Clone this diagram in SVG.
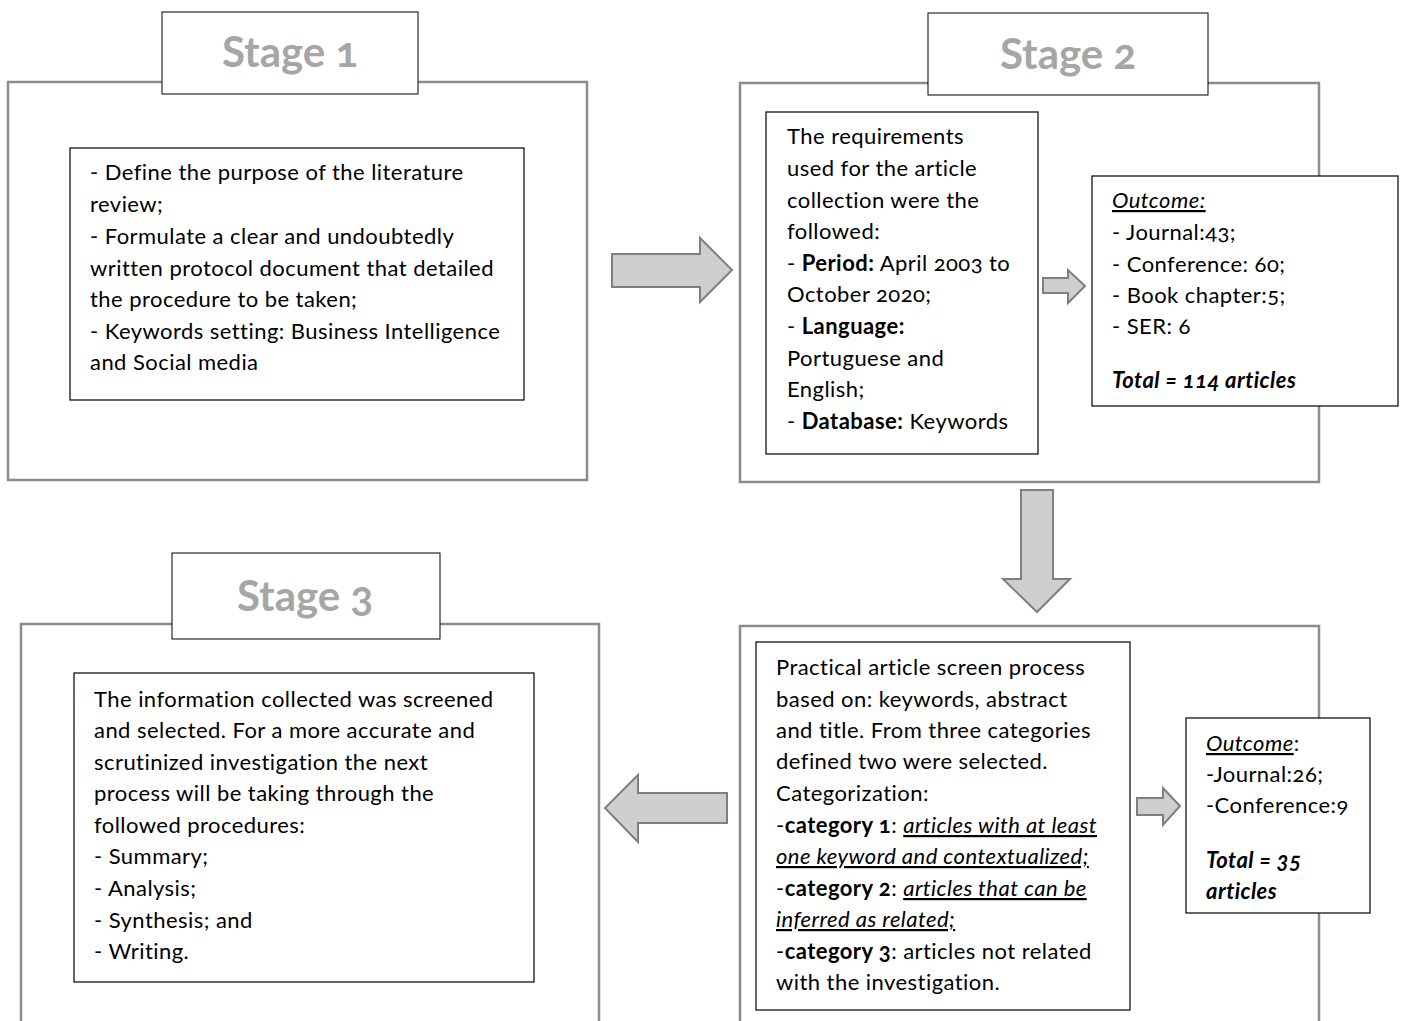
<svg xmlns="http://www.w3.org/2000/svg" width="1405" height="1021" viewBox="0 0 1405 1021">
<style>
.outer{fill:#fff;stroke:#8c8c8c;stroke-width:2.5}
.lbl{fill:#fff;stroke:#000;stroke-width:1}
.inner{fill:#fff;stroke:#000;stroke-width:1.2}
.title{font-family:Lato,"Open Sans",sans-serif;font-weight:bold;font-size:42px;fill:#a6a6a6;text-anchor:middle;font-variant-numeric:oldstyle-nums}
.t{font-family:Lato,"Open Sans",sans-serif;font-size:22px;letter-spacing:0.45px;fill:#000;font-variant-numeric:oldstyle-nums}
.b{font-weight:bold}
.i{font-style:italic}
.u{text-decoration:underline}
.arr{fill:#d0cece;stroke:#7f7f7f;stroke-width:2}
</style>
<rect width="1405" height="1021" fill="#fff"/>
<g id="stage1">
<rect class="outer" x="8" y="82" width="579" height="398"/>
<rect class="lbl" x="162" y="12" width="256" height="82"/>
<text class="title" x="290" y="67">Stage 1</text>
</g>
<g id="stage1-box">
<rect class="inner" x="70" y="148" width="454" height="252"/>
<text class="t" x="90" y="180">- Define the purpose of the literature</text>
<text class="t" x="90" y="212">review;</text>
<text class="t" x="90" y="244">- Formulate a clear and undoubtedly</text>
<text class="t" x="90" y="276">written protocol document that detailed</text>
<text class="t" x="90" y="307">the procedure to be taken;</text>
<text class="t" x="90" y="339">- Keywords setting: Business Intelligence</text>
<text class="t" x="90" y="370">and Social media</text>
</g>
<g id="stage2">
<rect class="outer" x="740" y="83" width="579" height="399"/>
<rect class="lbl" x="928" y="13" width="280" height="82"/>
<text class="title" x="1068" y="69">Stage 2</text>
</g>
<g id="stage2-requirements">
<rect class="inner" x="766" y="112" width="272" height="342"/>
<text class="t" x="787" y="144">The requirements</text>
<text class="t" x="787" y="176">used for the article</text>
<text class="t" x="787" y="208">collection were the</text>
<text class="t" x="787" y="239">followed:</text>
<text class="t" x="787" y="271">- <tspan class="b">Period:</tspan> April 2003 to</text>
<text class="t" x="787" y="302">October 2020;</text>
<text class="t" x="787" y="334">- <tspan class="b">Language:</tspan></text>
<text class="t" x="787" y="366">Portuguese and</text>
<text class="t" x="787" y="397">English;</text>
<text class="t" x="787" y="429">- <tspan class="b">Database:</tspan> Keywords</text>
</g>
<g id="stage2-outcome">
<rect class="inner" x="1092" y="176" width="306" height="230"/>
<text class="t" x="1112" y="208"><tspan class="i u">Outcome:</tspan></text>
<text class="t" x="1112" y="240">- Journal:43;</text>
<text class="t" x="1112" y="272">- Conference: 60;</text>
<text class="t" x="1112" y="303">- Book chapter:5;</text>
<text class="t" x="1112" y="334">- SER: 6</text>
<text class="t b i" x="1112" y="388">Total = 114 articles</text>
</g>
<g id="stage3">
<rect class="outer" x="21" y="624" width="578" height="420"/>
<rect class="lbl" x="172" y="553" width="268" height="86"/>
<text class="title" x="305" y="611">Stage 3</text>
</g>
<g id="stage3-box">
<rect class="inner" x="74" y="673" width="460" height="309"/>
<text class="t" x="94" y="707">The information collected was screened</text>
<text class="t" x="94" y="738">and selected. For a more accurate and</text>
<text class="t" x="94" y="770">scrutinized investigation the next</text>
<text class="t" x="94" y="801">process will be taking through the</text>
<text class="t" x="94" y="833">followed procedures:</text>
<text class="t" x="94" y="864">- Summary;</text>
<text class="t" x="94" y="896">- Analysis;</text>
<text class="t" x="94" y="928">- Synthesis; and</text>
<text class="t" x="94" y="959">- Writing.</text>
</g>
<g id="screening">
<rect class="outer" x="740" y="626" width="579" height="420"/>
</g>
<g id="screening-box">
<rect class="inner" x="756" y="642" width="374" height="368"/>
<text class="t" x="776" y="675">Practical article screen process</text>
<text class="t" x="776" y="707">based on: keywords, abstract</text>
<text class="t" x="776" y="738">and title. From three categories</text>
<text class="t" x="776" y="769">defined two were selected.</text>
<text class="t" x="776" y="801">Categorization:</text>
<text class="t" x="776" y="833">-<tspan class="b">category 1</tspan>: <tspan class="i u">articles with at least</tspan></text>
<text class="t" x="776" y="864"><tspan class="i u">one keyword and contextualized;</tspan></text>
<text class="t" x="776" y="896">-<tspan class="b">category 2</tspan>: <tspan class="i u">articles that can be</tspan></text>
<text class="t" x="776" y="927"><tspan class="i u">inferred as related;</tspan></text>
<text class="t" x="776" y="959">-<tspan class="b">category 3</tspan>: articles not related</text>
<text class="t" x="776" y="990">with the investigation.</text>
</g>
<g id="screening-outcome">
<rect class="inner" x="1186" y="718" width="184" height="195"/>
<text class="t" x="1206" y="751"><tspan class="i u">Outcome</tspan>:</text>
<text class="t" x="1206" y="782">-Journal:26;</text>
<text class="t" x="1206" y="813">-Conference:9</text>
<text class="t b i" x="1206" y="868">Total = 35</text>
<text class="t b i" x="1206" y="899">articles</text>
</g>
<g id="connectors">
<polygon class="arr" points="612,254 700,254 700,238 732,270 700,302 700,287 612,287"/>
<polygon class="arr" points="1043,278 1068,278 1068,270 1085,286 1068,303 1068,293 1043,293"/>
<polygon class="arr" points="1021,490 1053,490 1053,579 1070,579 1037,612 1003,579 1021,579"/>
<polygon class="arr" points="727,793 727,823 638,823 638,842 605,808 638,775 638,793"/>
<polygon class="arr" points="1137,798 1163,798 1163,788 1180,806 1163,825 1163,815 1137,815"/>
</g>
</svg>
